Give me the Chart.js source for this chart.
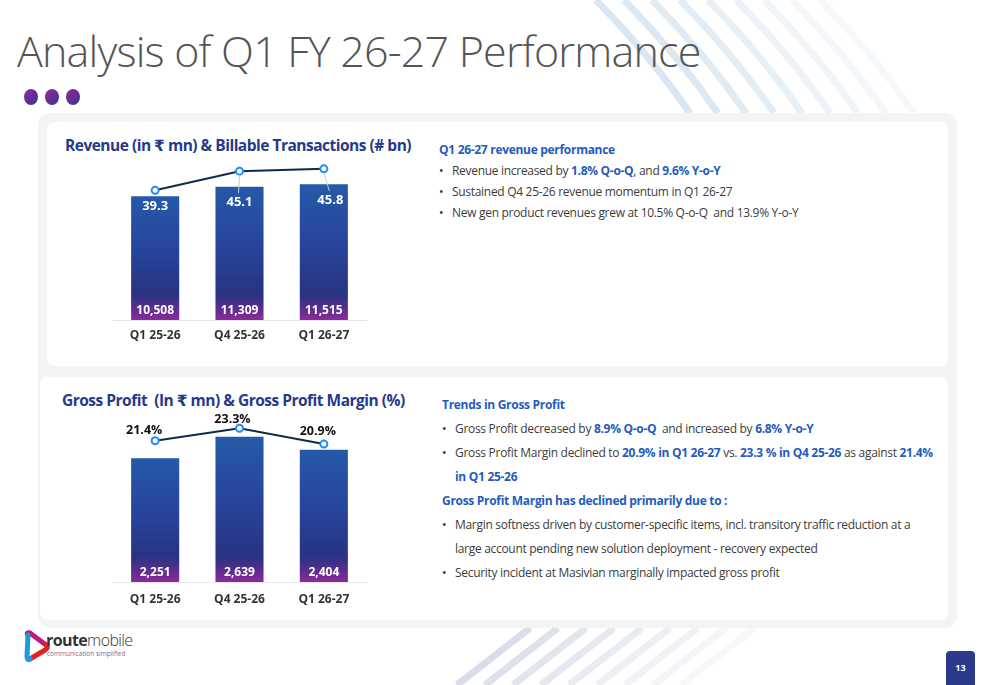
<!DOCTYPE html>
<html>
<head>
<meta charset="utf-8">
<script src="https://cdn.jsdelivr.net/npm/chart.js@4.4.1/dist/chart.umd.min.js"></script>
<style>
  html, body { margin: 0; padding: 0; }
  body { width: 1000px; height: 685px; position: relative; overflow: hidden; background: #fff; font-family: "Open Sans", "DejaVu Sans", sans-serif; }
  .abs { position: absolute; }
  #title { left: 17px; top: 29px; font-size: 43px; line-height: 43px; font-weight: 300; color: #555; white-space: nowrap; letter-spacing: -0.8px; }
  .dot { position: absolute; width: 14px; height: 16px; border-radius: 50%; top: 89px; background: linear-gradient(135deg, #9a2a98 0%, #6a2c94 50%, #2e3b92 100%); }
  #panel { left: 38px; top: 113px; width: 919px; height: 515px; background: #f3f5f5; border-radius: 12px; }
  .card { position: absolute; background: #fff; border-radius: 8px; }
  .ctitle { position: absolute; font-size: 15.5px; font-weight: 700; color: #27398a; white-space: nowrap; line-height: 20px; letter-spacing: -0.5px; }
  .txt { position: absolute; font-size: 12px; color: #3c3c3c; white-space: nowrap; letter-spacing: -0.3px; }
  .txt .h { color: #1f5cbc; font-weight: 700; }
  .txt b { color: #1f5cbc; font-weight: 700; }
  .txt .li { position: relative; padding-left: 13px; }
  .txt .li::before { content: "\2022"; position: absolute; left: 0; color: #333; }
  canvas { position: absolute; }
  #pg { left: 946px; top: 651px; width: 29px; height: 34px; background: #2b3a8a; border-radius: 4px 4px 0 0; color: #fff; font-size: 9px; font-weight: 700; text-align: center; line-height: 34px; }
</style>
</head>
<body>

<svg class="abs" style="left:0;top:0" width="1000" height="685">
  <g fill="none" stroke-width="7">
    <path d="M596 0 Q650 55 690 113" stroke="#dae6f1"/>
    <path d="M624 0 Q678 55 718 113" stroke="#dce8f2"/>
    <path d="M652 0 Q706 55 746 113" stroke="#e0ebf4"/>
    <path d="M680 0 Q734 55 774 113" stroke="#e4edf5"/>
    <path d="M708 0 Q762 55 802 113" stroke="#e8f0f7"/>
    <path d="M736 0 Q790 55 830 113" stroke="#ecf2f8"/>
    <path d="M764 0 Q818 55 858 113" stroke="#f0f5fa"/>
    <path d="M792 0 Q846 55 886 113" stroke="#f3f7fb"/>
    <path d="M820 0 Q874 55 914 113" stroke="#f6f9fc"/>
  </g>
  <g fill="none" stroke-width="7">
    <path d="M530 628 L457 685" stroke="#d9dde9"/>
    <path d="M558 628 L485 685" stroke="#dde1ec"/>
    <path d="M586 628 L513 685" stroke="#e1e5ee"/>
    <path d="M614 628 L541 685" stroke="#e5e8f0"/>
    <path d="M642 628 L569 685" stroke="#e9ecf3"/>
    <path d="M670 628 L597 685" stroke="#edeff5"/>
    <path d="M698 628 L625 685" stroke="#f1f2f7"/>
    <path d="M726 628 L653 685" stroke="#f4f5f9"/>
    <path d="M754 628 L681 685" stroke="#f7f8fb"/>
  </g>
</svg>

<div id="title" class="abs">Analysis of Q1 FY 26-27 Performance</div>
<div class="dot" style="left:24px"></div>
<div class="dot" style="left:45px"></div>
<div class="dot" style="left:66px"></div>

<div id="panel" class="abs"></div>
<div class="card" style="left:47px;top:122px;width:901px;height:244px"></div>
<div class="card" style="left:40px;top:377px;width:908px;height:243px"></div>

<div class="ctitle" style="left:65px;top:135px">Revenue (in ₹ mn) &amp; Billable Transactions (# bn)</div>
<div class="ctitle" style="left:62px;top:390px">Gross Profit&nbsp; (In ₹ mn) &amp; Gross Profit Margin (%)</div>

<canvas id="revChart" width="280" height="215" style="left:100px;top:140px"></canvas>
<canvas id="gpChart" width="280" height="217" style="left:100px;top:400px"></canvas>

<div class="txt" style="left:439px;top:139px;line-height:21px">
  <div class="h">Q1 26-27 revenue performance</div>
  <div class="li">Revenue increased by <b>1.8% Q-o-Q</b>, and <b>9.6% Y-o-Y</b></div>
  <div class="li">Sustained Q4 25-26 revenue momentum in Q1 26-27</div>
  <div class="li">New gen product revenues grew at 10.5% Q-o-Q&nbsp; and 13.9% Y-o-Y</div>
</div>

<div class="txt" style="left:442px;top:393px;line-height:24px">
  <div class="h">Trends in Gross Profit</div>
  <div class="li">Gross Profit decreased by <b>8.9% Q-o-Q</b>&nbsp; and increased by <b>6.8% Y-o-Y</b></div>
  <div class="li">Gross Profit Margin declined to <b>20.9% in Q1 26-27</b> vs. <b>23.3 % in Q4 25-26</b> as against <b>21.4%</b><br><b>in Q1 25-26</b></div>
  <div class="h">Gross Profit Margin has declined primarily due to :</div>
  <div class="li">Margin softness driven by customer-specific items, incl. transitory traffic reduction at a<br>large account pending new solution deployment - recovery expected</div>
  <div class="li">Security incident at Masivian marginally impacted gross profit</div>
</div>

<svg class="abs" style="left:20px;top:628px" width="32" height="40">
  <path d="M8 7 Q6 4 10 5 L26 17" stroke="#c3177f" stroke-width="5" fill="none" stroke-linecap="round"/>
  <path d="M26 17 Q29 20 25 22 L10 31" stroke="#e3231b" stroke-width="5" fill="none" stroke-linecap="round"/>
  <path d="M8 7 L7 28 Q7 33 10 31" stroke="#1e9ad8" stroke-width="5" fill="none" stroke-linecap="round"/>
</svg>
<div class="abs" style="left:46px;top:632px;font-size:16px;line-height:16px;color:#333;letter-spacing:-0.6px"><span style="font-weight:700">route</span><span style="font-weight:300">mobile</span></div>
<div class="abs" style="left:47px;top:650px;font-size:6.5px;line-height:7px;color:#7a6b95">communication simplified</div>

<div id="pg" class="abs">13</div>

<script>
const quarters = ['Q1 25-26', 'Q4 25-26', 'Q1 26-27'];
const revenue = [10508, 11309, 11515];
const transactions = [39.3, 45.1, 45.8];
const grossProfit = [2251, 2639, 2404];
const grossMargin = [21.4, 23.3, 20.9];

// vertical gradient per bar: blue top, navy body, purple foot
function barGradient(context) {
    var chart = context.chart;
    if (!chart.chartArea || !context.parsed) return '#283580';
    var y = chart.scales.y;
    var top = y.getPixelForValue(context.parsed.y);
    var base = y.getPixelForValue(0);
    var g = chart.ctx.createLinearGradient(0, top, 0, base);
    var h = base - top;
    var purple = Math.max(0, 1 - 26 / h);
    g.addColorStop(0, '#2559a9');
    g.addColorStop(0.45, '#27449a');
    g.addColorStop(purple, '#283381');
    g.addColorStop(Math.min(1, purple + 0.08), '#4a2f8a');
    g.addColorStop(1, '#8c2a99');
    return g;
}

const valueLabels = {
    id: 'valueLabels',
    afterDatasetsDraw: function (chart, args, opts) {
        var ctx = chart.ctx;
        var lineMeta = chart.getDatasetMeta(0);
        var barMeta = chart.getDatasetMeta(1);
        var base = chart.scales.y.getPixelForValue(0);
        ctx.save();
        ctx.textAlign = 'center';
        ctx.textBaseline = 'middle';
        ctx.font = opts.barFont;
        ctx.fillStyle = '#fff';
        barMeta.data.forEach(function (bar, i) {
            ctx.fillText(opts.barText[i], bar.x, base - opts.barLift);
        });
        lineMeta.data.forEach(function (pt, i) {
            var lx = pt.x + opts.offsets[i][0];
            var ly = pt.y + opts.offsets[i][1];
            if (opts.leader && opts.offsets[i][1] > 20) {
                ctx.strokeStyle = '#c9cdd3';
                ctx.lineWidth = 1;
                ctx.beginPath();
                ctx.moveTo(pt.x, pt.y + 4);
                ctx.lineTo(lx - 1, ly - 9);
                ctx.stroke();
            }
            ctx.font = opts.lineFont;
            ctx.fillStyle = opts.lineColor;
            ctx.fillText(opts.lineText[i], lx, ly);
        });
        ctx.restore();
    }
};

function makeChart(id, barData, lineData, barMax, lineMax, topPad, tickPad, labelOpts) {
    var ctx = document.getElementById(id).getContext('2d');
    return new Chart(ctx, {
        type: 'bar',
        data: {
            labels: quarters,
            datasets: [{
                type: 'line',
                data: lineData,
                yAxisID: 'y1',
                borderColor: '#0d2b4e',
                borderWidth: 2,
                pointRadius: 3.5,
                pointBorderWidth: 2,
                pointBorderColor: '#1b8dff',
                pointBackgroundColor: '#fff',
                tension: 0,
                clip: false,
                order: 0
            }, {
                data: barData,
                yAxisID: 'y',
                backgroundColor: barGradient,
                categoryPercentage: 1,
                barPercentage: 0.57,
                order: 1
            }]
        },
        options: {
            responsive: false,
            animation: false,
            layout: { padding: { left: 13, right: 14, top: topPad, bottom: 0 } },
            scales: {
                x: {
                    grid: { display: false, drawTicks: false },
                    border: { display: true, color: '#e4e6e8', width: 1 },
                    ticks: { color: '#333', padding: tickPad, font: { family: 'Open Sans', size: 12, weight: '700' } },
                    afterFit: function (scale) { scale.height = 35; }
                },
                y: { display: false, min: 0, max: barMax },
                y1: { display: false, min: 0, max: lineMax }
            },
            plugins: {
                legend: { display: false },
                tooltip: { enabled: false },
                valueLabels: labelOpts
            }
        },
        plugins: [valueLabels]
    });
}

makeChart('revChart', revenue, transactions, 14000, 50, 15, 8, {
    barText: revenue.map(function (v) { return v.toLocaleString('en-US'); }),
    lineText: transactions.map(function (v) { return v.toFixed(1); }),
    barFont: '700 12px "Open Sans"',
    lineFont: '700 13px "Open Sans"',
    lineColor: '#fff',
    barLift: 9.5,
    leader: true,
    offsets: [[0, 15.5], [0, 31], [6.5, 31]]
});

makeChart('gpChart', grossProfit, grossMargin, 3000, 25, 17, 10, {
    barText: grossProfit.map(function (v) { return v.toLocaleString('en-US'); }),
    lineText: grossMargin.map(function (v) { return v.toFixed(1) + '%'; }),
    barFont: '700 12px "Open Sans"',
    lineFont: '700 12.5px "Open Sans"',
    lineColor: '#111',
    barLift: 9,
    leader: false,
    offsets: [[-11, -10], [-7, -9], [-6, -13]]
});
</script>
</body>
</html>
